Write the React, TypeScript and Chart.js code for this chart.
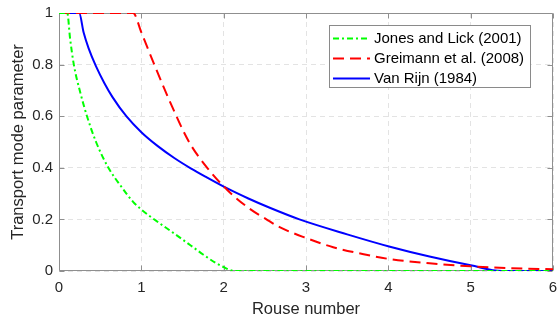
import React, { useEffect, useRef } from 'react';
import { Chart, registerables } from 'chart.js';

Chart.register(...registerables);

const xTicks = [0, 1, 2, 3, 4, 5, 6];
const yTicks = [0, 0.2, 0.4, 0.6, 0.8, 1];
const xTitle = 'Rouse number';
const yTitle = 'Transport mode parameter';
const seriesLabels = ['Jones and Lick (2001)', 'Greimann et al. (2008)', 'Van Rijn (1984)'];
const seriesColors = ['#00ff00', '#ff0000', '#0000ff'];

const jonesX = [0, 0.1, 0.135, 0.18, 0.26, 0.34, 0.45, 0.6, 0.75, 0.9, 1.0, 1.1, 1.2, 1.4, 1.6, 1.75, 1.9, 2.0, 2.13, 3, 4, 5, 6];
const jonesY = [1, 1, 0.9, 0.8, 0.69, 0.6, 0.5, 0.4, 0.33, 0.268, 0.238, 0.213, 0.19, 0.145, 0.099, 0.064, 0.032, 0.015, 0, 0, 0, 0, 0];

const greimannX = [0, 0.9, 1.0, 1.17, 1.37, 1.58, 1.8, 2.05, 2.3, 2.52, 2.68, 3.0, 3.33, 3.7, 4.0, 4.5, 5.0, 5.5, 6];
const greimannY = [1, 1, 0.925, 0.79, 0.64, 0.5, 0.4, 0.312, 0.245, 0.2, 0.17, 0.128, 0.092, 0.065, 0.047, 0.03, 0.018, 0.011, 0.007];

const vanRijnX = [0, 0.245, 0.3, 0.36, 0.45, 0.55, 0.65, 0.82, 1.0, 1.2, 1.4, 1.6, 1.8, 2.05, 2.3, 2.56, 2.92, 3.5, 4.02, 4.5, 5.0, 5.38, 6];
const vanRijnY = [1, 1, 0.923, 0.863, 0.793, 0.729, 0.674, 0.599, 0.538, 0.484, 0.438, 0.398, 0.362, 0.319, 0.281, 0.245, 0.2, 0.142, 0.094, 0.056, 0.022, 0, 0];

const FONT = '"Liberation Sans", Arial, Helvetica, sans-serif';
const TEXT = '#262626';
const AXIS = '#8f8f8f';

const boxPlugin = {
  id: 'matlabBox',
  beforeDatasetsDraw(chart: any) {
    const { ctx, chartArea: a, scales } = chart;
    ctx.save();
    ctx.strokeStyle = AXIS;
    ctx.lineWidth = 1;
    ctx.setLineDash([]);
    ctx.beginPath();
    const L = Math.round(a.left) + 0.5, R = Math.round(a.right) - 0.5;
    const T = Math.round(a.top) + 0.5, B = Math.round(a.bottom) - 0.5;
    ctx.rect(L, T, R - L, B - T);
    const tl = 5;
    xTicks.forEach((v) => {
      const px = Math.round(scales.x.getPixelForValue(v)) + 0.5;
      ctx.moveTo(px, B); ctx.lineTo(px, B - tl);
      ctx.moveTo(px, T); ctx.lineTo(px, T + tl);
    });
    yTicks.forEach((v) => {
      const py = Math.round(scales.y.getPixelForValue(v)) + 0.5;
      ctx.moveTo(L, py); ctx.lineTo(L + tl, py);
      ctx.moveTo(R, py); ctx.lineTo(R - tl, py);
    });
    ctx.stroke();
    ctx.restore();
  },
};

const legendPlugin = {
  id: 'insideLegend',
  afterDatasetsDraw(chart: any) {
    const { ctx, chartArea: a } = chart;
    ctx.save();
    ctx.font = `15px ${FONT}`;
    const widths = chart.data.datasets.map((d: any) => ctx.measureText(d.label).width);
    const maxW = Math.max(...widths);
    const w = Math.round(maxW + 45 + 7);
    const h = 63;
    const right = Math.round(a.right) - 22;
    const left = right - w;
    const top = Math.round(a.top) + 12;
    ctx.fillStyle = '#ffffff';
    ctx.fillRect(left, top, w, h);
    ctx.strokeStyle = '#8a8a8a';
    ctx.lineWidth = 1;
    ctx.setLineDash([]);
    ctx.strokeRect(left + 0.5, top + 0.5, w - 1, h - 1);
    chart.data.datasets.forEach((d: any, i: number) => {
      const cy = top + 13.5 + i * 20;
      ctx.beginPath();
      ctx.strokeStyle = d.borderColor;
      ctx.lineWidth = d.borderWidth;
      ctx.setLineDash(d.borderDash || []);
      ctx.moveTo(left + 4, cy);
      ctx.lineTo(left + 41, cy);
      ctx.stroke();
      ctx.setLineDash([]);
      ctx.fillStyle = '#000000';
      ctx.textBaseline = 'middle';
      ctx.textAlign = 'left';
      ctx.fillText(d.label, left + 45, cy + 0.5);
    });
    ctx.restore();
  },
};

const fmt = (v: number) => String(Math.round(v * 10) / 10);

export default function App() {
  const ref = useRef<HTMLCanvasElement>(null);
  useEffect(() => {
    if (!ref.current) return;
    const mk = (xs: number[], ys: number[]) => xs.map((x, i) => ({ x, y: ys[i] }));
    const chart = new Chart(ref.current, {
      type: 'line',
      data: {
        datasets: [
          { label: seriesLabels[0], data: mk(jonesX, jonesY), borderColor: seriesColors[0], borderWidth: 2, borderDash: [6, 3, 2, 3], pointRadius: 0, cubicInterpolationMode: 'monotone', fill: false },
          { label: seriesLabels[1], data: mk(greimannX, greimannY), borderColor: seriesColors[1], borderWidth: 2, borderDash: [11, 6], pointRadius: 0, cubicInterpolationMode: 'monotone', fill: false },
          { label: seriesLabels[2], data: mk(vanRijnX, vanRijnY), borderColor: seriesColors[2], borderWidth: 2, pointRadius: 0, cubicInterpolationMode: 'monotone', fill: false },
        ] as any,
      },
      options: {
        animation: false,
        responsive: false,
        devicePixelRatio: 1,
        layout: { padding: { top: 13, right: 5, left: 0, bottom: 0 } },
        plugins: { legend: { display: false }, tooltip: { enabled: false } },
        scales: {
          x: {
            type: 'linear', min: 0, max: 6,
            afterBuildTicks: (s: any) => { s.ticks = xTicks.map((v) => ({ value: v })); },
            afterFit: (s: any) => { s.height = 50; s.paddingLeft = 0; s.paddingRight = 0; },
            grid: { color: '#e3e3e3', drawTicks: false },
            border: { display: false, dash: [5, 4] },
            ticks: { color: TEXT, font: { family: FONT, size: 15 }, padding: 8, maxRotation: 0, callback: (v: any) => fmt(Number(v)) },
            title: { display: true, text: xTitle, color: TEXT, font: { family: FONT, size: 16.5 }, padding: { top: 0, bottom: 2 } },
          },
          y: {
            type: 'linear', min: 0, max: 1,
            afterBuildTicks: (s: any) => { s.ticks = yTicks.map((v) => ({ value: v })); },
            afterFit: (s: any) => { s.width = 59; s.paddingTop = 0; s.paddingBottom = 0; },
            grid: { color: '#e3e3e3', drawTicks: false },
            border: { display: false, dash: [5, 4] },
            ticks: { color: TEXT, font: { family: FONT, size: 15 }, padding: 6, callback: (v: any) => fmt(Number(v)) },
            title: { display: true, text: yTitle, color: TEXT, font: { family: FONT, size: 16.5 }, padding: { top: 9, bottom: 0 } },
          },
        },
      } as any,
      plugins: [boxPlugin, legendPlugin],
    });
    return () => chart.destroy();
  }, []);
  return (
    <div style={{ position: 'absolute', left: 0, top: 0, width: 558, height: 321, background: '#fff' }}>
      <canvas ref={ref} width={558} height={321} />
    </div>
  );
}
